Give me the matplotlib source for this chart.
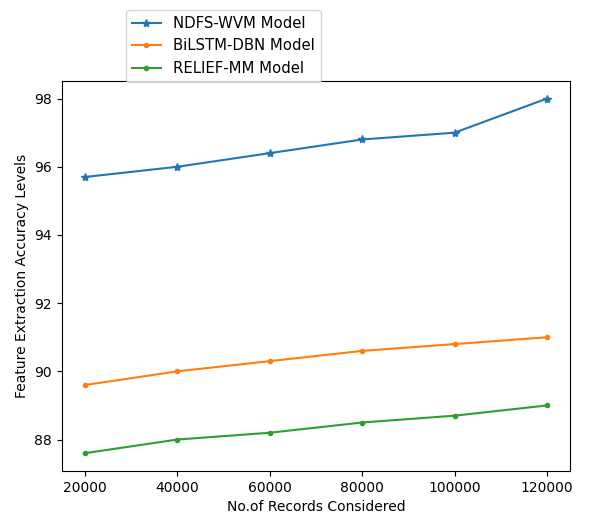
import matplotlib
matplotlib.use("Agg")
import matplotlib.pyplot as plt

records = [20000, 40000, 60000, 80000, 100000, 120000]
ndfs_wvm = [95.7, 96.0, 96.4, 96.8, 97.0, 98.0]
bilstm_dbn = [89.6, 90.0, 90.3, 90.6, 90.8, 91.0]
relief_mm = [87.6, 88.0, 88.2, 88.5, 88.7, 89.0]

fig = plt.figure(figsize=(6, 5.25), dpi=100)
ax = fig.add_axes([0.103, 0.103, 0.847, 0.743])
ax.plot(records, ndfs_wvm, marker='*', label='NDFS-WVM Model')
ax.plot(records, bilstm_dbn, marker='.', label='BiLSTM-DBN Model')
ax.plot(records, relief_mm, marker='.', label='RELIEF-MM Model')
ax.set_xlabel('No.of Records Considered')
ax.set_ylabel('Feature Extraction Accuracy Levels')
ax.set_xticks(records)
fig.legend(loc='upper left', bbox_to_anchor=(0.197, 0.995), fontsize=10.7)
fig.savefig('out.png', dpi=100)
